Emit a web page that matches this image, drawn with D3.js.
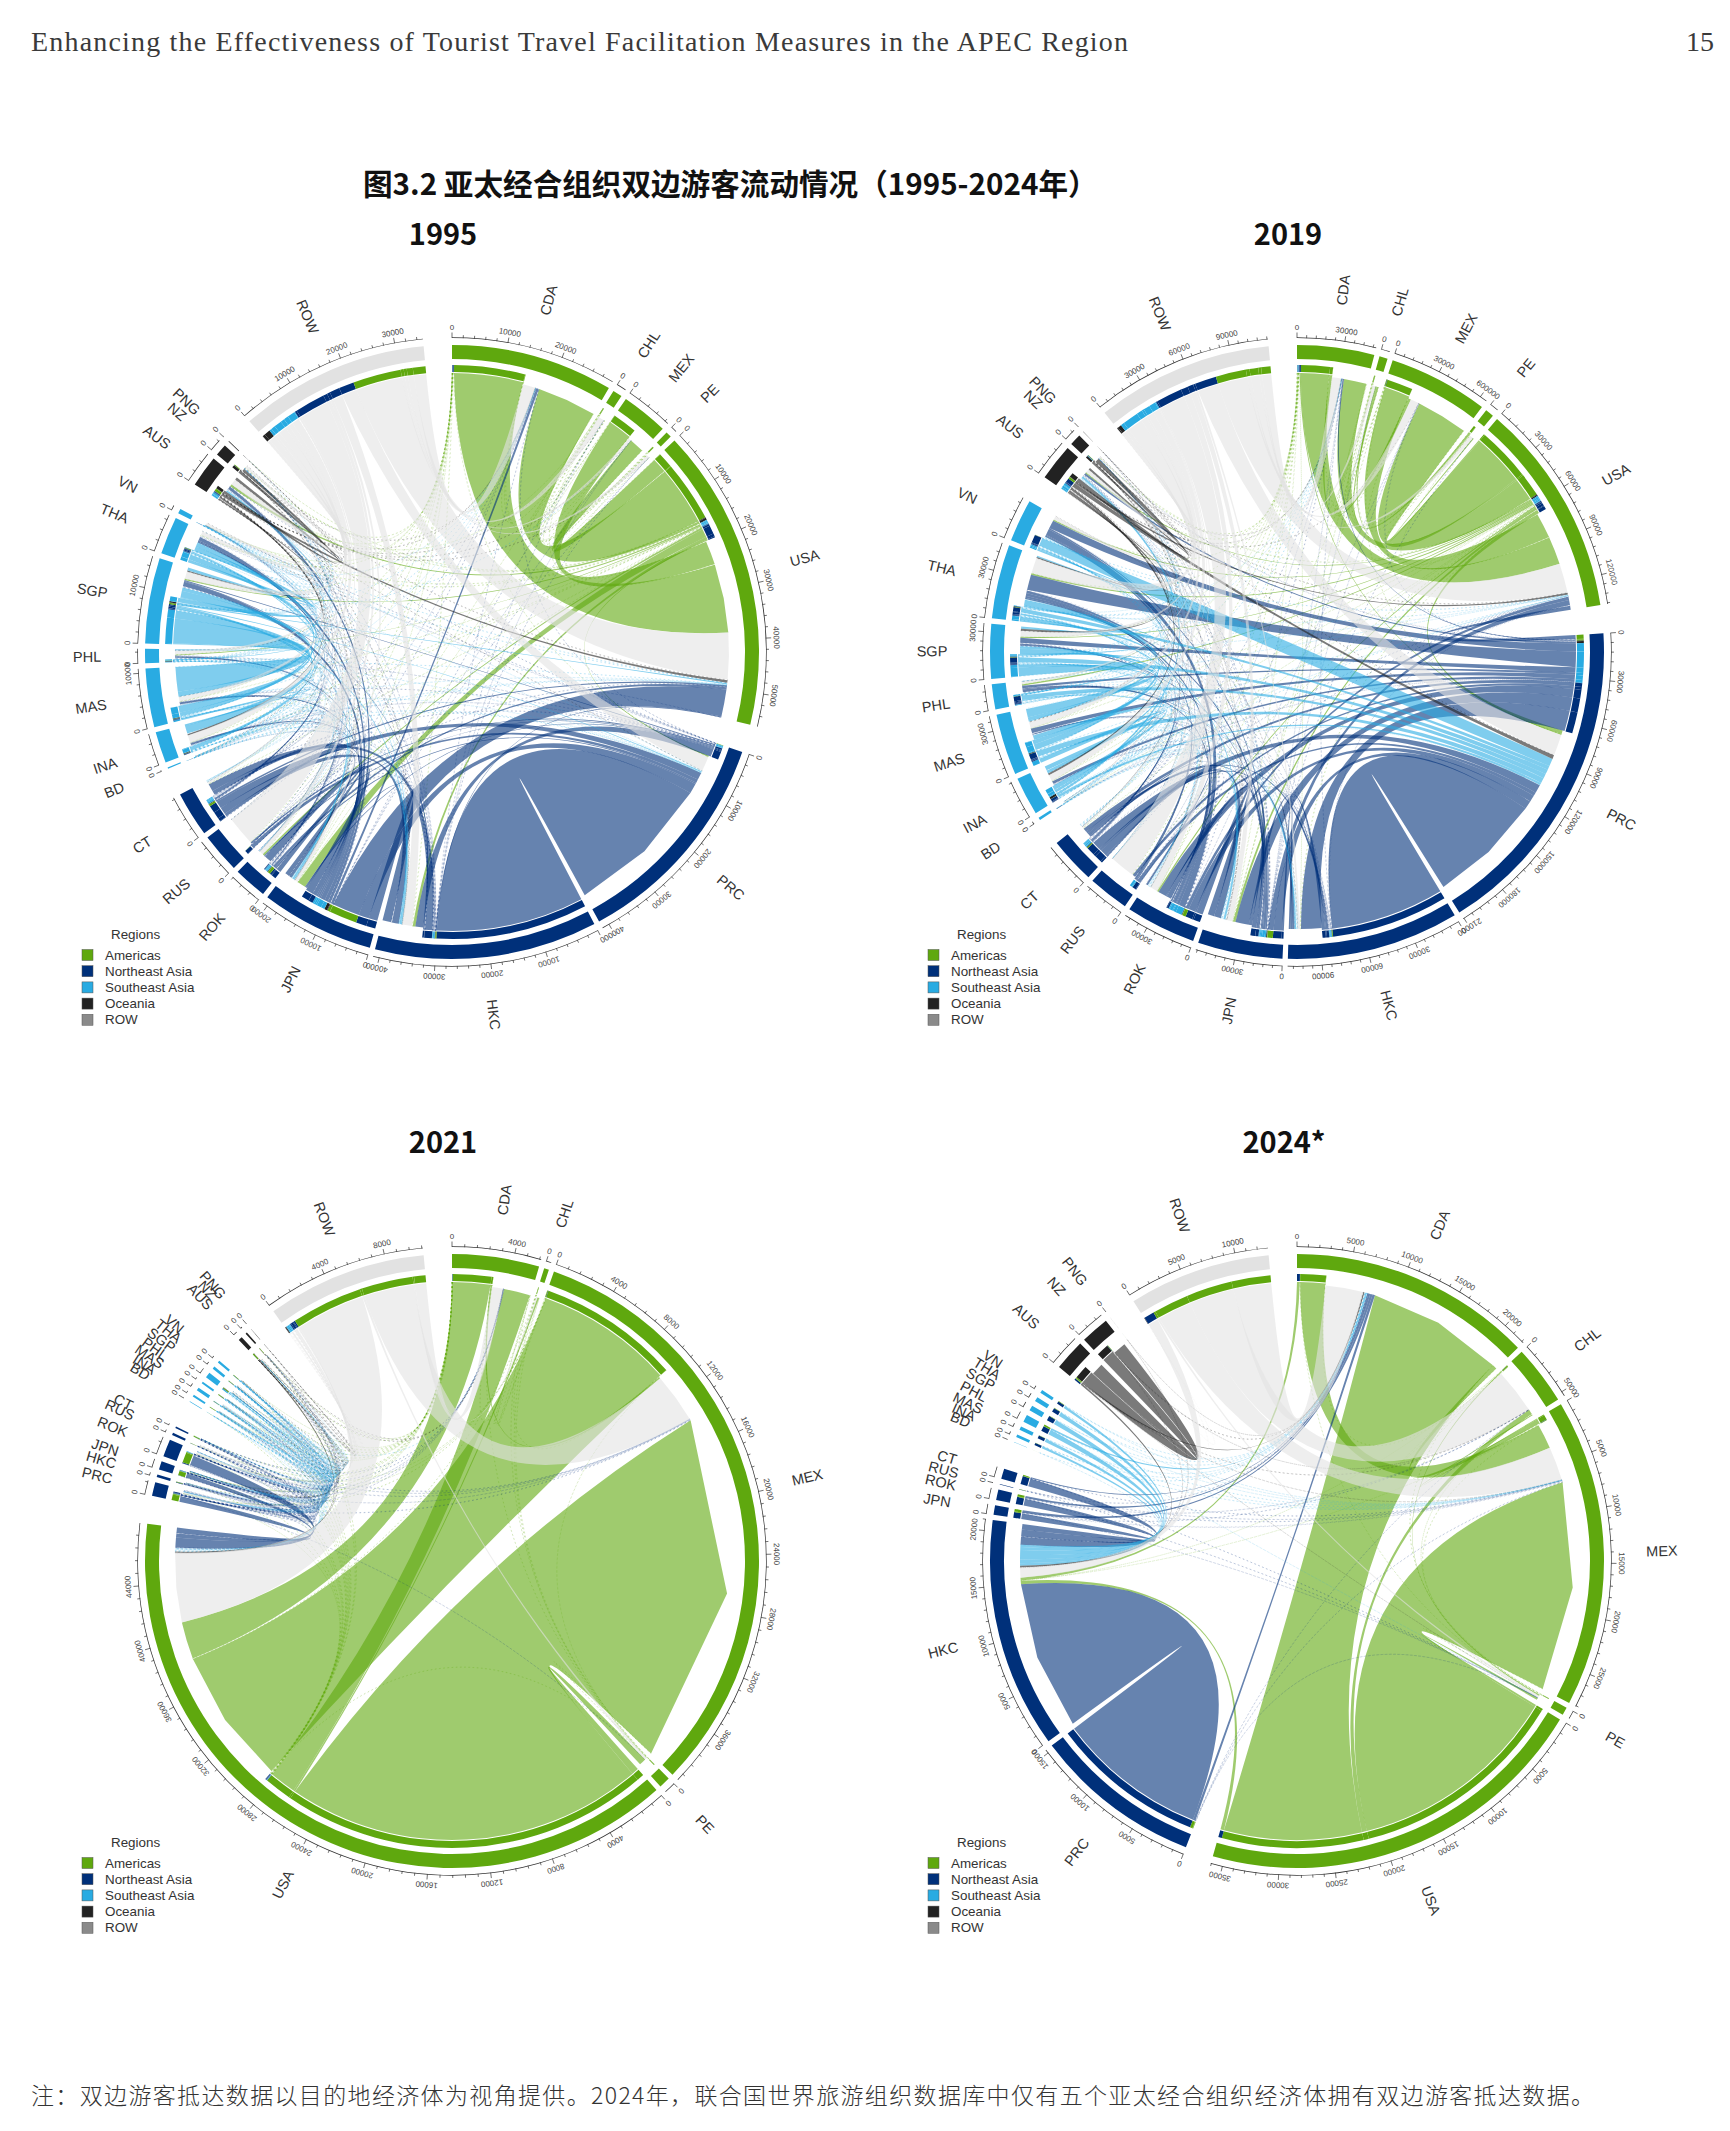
<!DOCTYPE html>
<html lang="zh">
<head>
<meta charset="utf-8">
<title>图3.2 亚太经合组织双边游客流动情况</title>
<script src="https://cdn.jsdelivr.net/npm/d3@7"></script>
<style>
  html, body { margin: 0; background: #fff; }
  svg { display: block; }
  text { font-family: "Liberation Sans", Arial, sans-serif; }
</style>
</head>
<body>
<script>
// Economies in clockwise order, starting at twelve o'clock
const sectors = ["CDA","CHL","MEX","PE","USA","PRC","HKC","JPN","ROK","RUS","CT","BD","INA","MAS","PHL","SGP","THA","VN","AUS","NZ","PNG","ROW"];
const sectorRegions = ["Americas","Americas","Americas","Americas","Americas","Northeast Asia","Northeast Asia","Northeast Asia","Northeast Asia","Northeast Asia","Northeast Asia","Southeast Asia","Southeast Asia","Southeast Asia","Southeast Asia","Southeast Asia","Southeast Asia","Southeast Asia","Oceania","Oceania","Oceania","ROW"];
const regionNames = ["Americas","Northeast Asia","Southeast Asia","Oceania","ROW"];
const regionColors = ["#5fa80e","#00307a","#29abe2","#222222","#e2e2e2"];
const legendColors = ["#5fa80e","#00307a","#29abe2","#222222","#8a8a8a"];

// Arrivals in thousands. Each row: origin, then destination / value pairs.
const flows1995 = [
  ["CDA","USA",14000,"MEX",90,"PE",10,"CHL",10,"AUS",30,"NZ",10,"VN",5,"THA",15,"SGP",10,"PHL",10,"MAS",5,"INA",5,"CT",25,"RUS",10,"ROK",20,"JPN",90,"HKC",110,"PRC",60],
  ["CHL","CDA",10,"MEX",15,"PE",90,"USA",130,"AUS",2,"JPN",2],
  ["MEX","CDA",60,"CHL",5,"PE",3,"USA",4800,"JPN",5],
  ["PE","USA",150,"CHL",130,"MEX",5,"CDA",15],
  ["USA","PE",60,"MEX",3000,"CHL",120,"CDA",12000,"AUS",420,"NZ",120,"PNG",3,"VN",40,"THA",150,"SGP",250,"PHL",180,"MAS",100,"INA",80,"BD",5,"CT",90,"RUS",40,"ROK",350,"JPN",1700,"HKC",550,"PRC",220],
  ["PRC","USA",60,"CDA",30,"AUS",30,"VN",10,"THA",150,"SGP",200,"PHL",50,"MAS",50,"INA",30,"CT",20,"RUS",300,"ROK",200,"JPN",200,"HKC",1600],
  ["HKC","PRC",30000,"USA",200,"PE",1,"MEX",3,"CHL",1,"CDA",50,"AUS",70,"NZ",15,"VN",3,"THA",150,"SGP",180,"PHL",90,"MAS",60,"INA",40,"BD",2,"CT",1500,"RUS",30,"ROK",60,"JPN",300],
  ["JPN","HKC",1800,"PRC",2100,"USA",5500,"PE",5,"MEX",30,"CHL",5,"CDA",500,"AUS",550,"NZ",120,"VN",30,"THA",700,"SGP",900,"PHL",300,"MAS",350,"INA",350,"CT",830,"RUS",40,"ROK",1500],
  ["ROK","JPN",900,"HKC",150,"PRC",300,"USA",500,"CDA",80,"AUS",100,"NZ",40,"THA",200,"SGP",120,"PHL",150,"MAS",50,"INA",60,"VN",20,"CT",100,"RUS",80],
  ["RUS","PRC",700,"JPN",50,"ROK",30,"USA",30,"CT",5,"THA",10,"CDA",10],
  ["CT","RUS",5,"ROK",100,"JPN",600,"HKC",1400,"PRC",1500,"USA",350,"CDA",50,"AUS",80,"NZ",5,"VN",40,"THA",300,"SGP",150,"PHL",100,"MAS",150,"INA",130,"BD",2],
  ["BD","THA",20,"SGP",5,"MAS",3,"INA",1,"HKC",2,"JPN",5,"USA",5,"PRC",5],
  ["INA","BD",2,"CT",50,"ROK",20,"JPN",100,"HKC",30,"PRC",40,"USA",40,"CDA",5,"AUS",110,"NZ",5,"VN",5,"THA",30,"SGP",700,"PHL",20,"MAS",100],
  ["MAS","INA",300,"BD",3,"CT",30,"ROK",10,"JPN",50,"HKC",80,"PRC",100,"USA",50,"CDA",10,"AUS",100,"NZ",10,"VN",20,"THA",800,"SGP",1300,"PHL",30],
  ["PHL","MAS",40,"INA",20,"BD",1,"CT",30,"ROK",30,"JPN",70,"HKC",50,"PRC",10,"USA",60,"CDA",10,"AUS",20,"NZ",3,"VN",5,"THA",20,"SGP",200],
  ["SGP","PHL",200,"MAS",5000,"INA",1600,"BD",5,"CT",150,"RUS",5,"ROK",80,"JPN",300,"HKC",300,"PRC",200,"USA",250,"CDA",30,"MEX",2,"PNG",3,"NZ",60,"AUS",250,"VN",60,"THA",900],
  ["THA","SGP",600,"PHL",50,"MAS",1000,"INA",120,"BD",10,"CT",100,"ROK",60,"JPN",200,"HKC",200,"PRC",100,"USA",100,"CDA",10,"AUS",40,"NZ",5,"VN",30],
  ["VN","THA",30,"SGP",10,"MAS",10,"PHL",1,"CT",2,"JPN",5,"HKC",5,"PRC",10,"USA",3,"AUS",3],
  ["AUS","VN",30,"THA",40,"SGP",250,"PHL",50,"MAS",100,"INA",300,"BD",1,"CT",40,"RUS",5,"ROK",20,"JPN",130,"HKC",70,"PRC",30,"USA",500,"PE",1,"MEX",5,"CHL",5,"CDA",80,"PNG",30,"NZ",550],
  ["NZ","AUS",550,"USA",150,"JPN",5,"ROK",5,"HKC",5,"SGP",5,"CDA",5],
  ["PNG","AUS",30,"JPN",5,"NZ",5],
  ["ROW","PNG",50,"NZ",500,"AUS",1200,"VN",500,"THA",800,"SGP",1500,"PHL",800,"MAS",900,"INA",1500,"BD",150,"CT",400,"RUS",6000,"ROK",800,"JPN",600,"HKC",2000,"PRC",3000,"USA",9500,"PE",600,"MEX",600,"CHL",1200,"CDA",2500]
];

const flows2019 = [
  ["CDA","USA",20000,"MEX",2000,"CHL",100,"PE",80,"PRC",800,"HKC",100,"JPN",370,"ROK",200,"CT",120,"RUS",30,"AUS",200,"NZ",50,"VN",100,"THA",250,"SGP",100,"PHL",250,"MAS",50,"INA",50],
  ["CHL","USA",300,"CDA",50,"MEX",100,"PE",400,"JPN",5],
  ["MEX","CHL",100,"CDA",450,"USA",18000,"PE",40,"JPN",90,"ROK",60,"PRC",100],
  ["PE","USA",300,"CHL",1300,"MEX",50,"CDA",20],
  ["USA","PE",800,"MEX",37000,"CHL",1000,"CDA",16000,"AUS",800,"NZ",350,"VN",750,"THA",1100,"SGP",700,"PHL",1000,"MAS",250,"INA",300,"BD",5,"CT",600,"RUS",300,"ROK",1000,"JPN",1700,"HKC",500,"PRC",2500],
  ["PRC","USA",2800,"MEX",400,"CDA",800,"AUS",1400,"NZ",450,"VN",5800,"THA",11000,"SGP",3600,"PHL",1700,"MAS",3100,"INA",2000,"BD",200,"CT",2700,"RUS",2000,"ROK",6000,"JPN",9600,"HKC",14700],
  ["HKC","PRC",81000,"USA",500,"CDA",100,"AUS",200,"VN",100,"THA",600,"SGP",450,"PHL",250,"MAS",250,"INA",100,"CT",1700,"ROK",700,"JPN",2300],
  ["JPN","HKC",1300,"PRC",6000,"USA",3700,"PE",20,"MEX",130,"CHL",5,"CDA",250,"PNG",5,"NZ",100,"AUS",500,"VN",950,"THA",1800,"SGP",880,"PHL",680,"MAS",420,"INA",520,"BD",10,"CT",2100,"RUS",100,"ROK",3300],
  ["ROK","JPN",4600,"HKC",1100,"PRC",4800,"USA",2300,"MEX",60,"CDA",280,"AUS",280,"NZ",100,"VN",4300,"THA",1900,"SGP",640,"PHL",2000,"MAS",680,"INA",350,"CT",1100,"RUS",500],
  ["RUS","ROK",350,"JPN",120,"PRC",2500,"USA",50,"THA",1500,"VN",640,"SGP",40,"CDA",20],
  ["CT","RUS",5,"ROK",1300,"JPN",4900,"HKC",1700,"PRC",6000,"USA",600,"CDA",100,"AUS",300,"NZ",40,"VN",900,"THA",800,"SGP",400,"PHL",500,"MAS",500,"INA",200],
  ["BD","INA",5,"MAS",100,"SGP",100,"THA",100,"PRC",200,"JPN",10,"USA",50,"HKC",10],
  ["INA","BD",20,"CT",200,"RUS",20,"ROK",250,"JPN",400,"HKC",100,"PRC",1700,"USA",100,"CDA",30,"AUS",1400,"NZ",40,"VN",80,"THA",600,"SGP",1800,"PHL",200,"MAS",3000],
  ["MAS","INA",3000,"BD",20,"CT",500,"RUS",30,"ROK",400,"JPN",500,"HKC",300,"PRC",3800,"USA",100,"CDA",50,"AUS",400,"NZ",30,"VN",600,"THA",4000,"SGP",3000,"PHL",200],
  ["PHL","MAS",400,"INA",300,"BD",5,"CT",500,"ROK",500,"JPN",600,"HKC",700,"PRC",3200,"USA",100,"CDA",40,"AUS",100,"VN",50,"THA",100,"SGP",800],
  ["SGP","PHL",200,"MAS",6000,"INA",2000,"BD",20,"CT",430,"RUS",5,"ROK",210,"JPN",500,"HKC",450,"PRC",3500,"USA",200,"CDA",50,"AUS",500,"NZ",60,"VN",500,"THA",1000],
  ["THA","SGP",1000,"PHL",60,"MAS",2200,"INA",150,"BD",50,"CT",400,"RUS",100,"ROK",570,"JPN",1300,"HKC",600,"PRC",2800,"USA",300,"CDA",80,"AUS",400,"NZ",40,"VN",400],
  ["VN","THA",900,"SGP",700,"PHL",50,"MAS",900,"INA",70,"CT",100,"ROK",550,"JPN",500,"HKC",100,"PRC",5500,"USA",100,"AUS",100],
  ["AUS","VN",380,"THA",800,"SGP",1400,"PHL",300,"MAS",400,"INA",1400,"BD",5,"CT",100,"RUS",50,"ROK",150,"JPN",600,"HKC",200,"PRC",2800,"USA",1300,"CDA",200,"MEX",20,"NZ",3000,"PNG",50],
  ["NZ","AUS",1500,"USA",300,"PRC",150,"JPN",100,"ROK",30,"CT",40,"SGP",100,"THA",80,"MAS",50,"CDA",50],
  ["PNG","AUS",50,"JPN",5,"NZ",5],
  ["ROW","PNG",50,"NZ",800,"AUS",2500,"VN",2500,"THA",11000,"SGP",4000,"PHL",1500,"MAS",4500,"INA",4500,"BD",800,"CT",1000,"RUS",18000,"ROK",5000,"JPN",4000,"HKC",1500,"PRC",15000,"USA",21000,"PE",2500,"MEX",6000,"CHL",2000,"CDA",6500]
];

const flows2021 = [
  ["CDA","USA",2700,"MEX",120,"CHL",10,"PE",3,"PRC",8,"HKC",2,"JPN",4,"ROK",10,"RUS",1,"CT",1,"AUS",6,"NZ",1,"VN",1,"THA",2,"SGP",2,"PHL",4,"MAS",1,"INA",1],
  ["CHL","CDA",2,"MEX",20,"PE",10,"USA",30],
  ["MEX","CHL",20,"CDA",50,"USA",9900,"PE",15,"ROK",15,"JPN",5,"PRC",3],
  ["PE","USA",40,"MEX",15,"CHL",5,"CDA",1],
  ["USA","PE",500,"MEX",25800,"CHL",120,"CDA",1900,"AUS",10,"NZ",3,"VN",5,"THA",8,"SGP",10,"PHL",20,"MAS",3,"INA",8,"BD",1,"CT",3,"RUS",8,"ROK",30,"JPN",30,"HKC",2,"PRC",20],
  ["PRC","USA",400,"MEX",40,"PE",1,"CDA",30,"AUS",6,"NZ",1,"VN",10,"THA",5,"SGP",5,"PHL",5,"MAS",3,"INA",5,"CT",1,"RUS",30,"ROK",5,"JPN",10,"HKC",60],
  ["HKC","PRC",40,"USA",30,"CDA",3,"JPN",3,"THA",1,"SGP",2,"PHL",2,"MAS",1,"CT",2],
  ["JPN","HKC",4,"PRC",15,"USA",300,"MEX",15,"CDA",6,"AUS",4,"NZ",1,"VN",15,"THA",10,"SGP",6,"PHL",6,"MAS",4,"INA",4,"CT",2,"ROK",10],
  ["ROK","JPN",10,"HKC",2,"PRC",60,"USA",700,"MEX",50,"CDA",20,"AUS",5,"NZ",1,"VN",20,"THA",5,"SGP",15,"PHL",5,"MAS",3,"INA",2,"RUS",4],
  ["RUS","PRC",5,"ROK",3,"JPN",1,"USA",10,"MEX",5,"THA",2,"VN",1],
  ["CT","RUS",1,"ROK",1,"JPN",2,"HKC",2,"PRC",5,"USA",60,"MEX",3,"CDA",2,"VN",3,"THA",1,"SGP",1,"PHL",1],
  ["BD","INA",1,"MAS",3,"SGP",5,"THA",1,"USA",2,"PRC",1],
  ["INA","MAS",2,"SGP",3,"THA",1,"PHL",1,"VN",1,"AUS",5,"USA",30,"JPN",2,"PRC",5,"ROK",1],
  ["MAS","INA",4,"SGP",20,"THA",5,"VN",1,"AUS",5,"USA",20,"JPN",1,"PRC",5,"HKC",1],
  ["PHL","MAS",1,"INA",1,"SGP",3,"THA",1,"USA",50,"CDA",3,"JPN",2,"ROK",3,"AUS",2,"PRC",2],
  ["SGP","PHL",2,"MAS",60,"INA",15,"BD",2,"THA",8,"VN",3,"AUS",10,"NZ",1,"USA",60,"JPN",3,"ROK",4,"PRC",10,"HKC",2,"CT",1],
  ["THA","SGP",6,"PHL",1,"MAS",6,"INA",1,"VN",2,"AUS",3,"USA",30,"JPN",3,"ROK",3,"PRC",3,"CT",1],
  ["VN","THA",2,"SGP",2,"MAS",1,"PHL",1,"AUS",2,"USA",30,"JPN",5,"ROK",8,"PRC",3,"CT",1],
  ["AUS","VN",1,"THA",1,"SGP",3,"PHL",1,"MAS",1,"INA",2,"USA",80,"CDA",5,"NZ",20,"JPN",1,"PNG",1],
  ["NZ","AUS",15,"USA",30,"CDA",2,"JPN",1],
  ["PNG","AUS",8,"NZ",1,"USA",1],
  ["ROW","PNG",5,"NZ",30,"AUS",60,"VN",30,"THA",60,"SGP",100,"PHL",10,"MAS",60,"INA",40,"BD",20,"CT",5,"RUS",80,"ROK",150,"JPN",60,"HKC",15,"PRC",100,"USA",5000,"PE",150,"MEX",3600,"CHL",100,"CDA",800]
];

const flows2024 = [
  ["CDA","MEX",2500,"PE",30,"CHL",30,"HKC",280],
  ["CHL","CDA",30,"MEX",40,"PE",100,"HKC",2],
  ["MEX","CDA",450,"CHL",100,"PE",60,"HKC",15],
  ["PE","CDA",10,"CHL",50,"MEX",30],
  ["USA","PE",200,"MEX",21200,"CHL",500,"CDA",13800,"HKC",350],
  ["PRC","MEX",40,"CDA",250,"PE",20,"CHL",20,"HKC",15000],
  ["JPN","HKC",550,"CDA",230,"MEX",70,"PE",5,"CHL",5],
  ["ROK","HKC",700,"CDA",200,"MEX",50,"CHL",3,"PE",5],
  ["RUS","HKC",20,"MEX",20,"CDA",5],
  ["CT","HKC",800,"CDA",100,"MEX",30,"PE",3],
  ["BD","HKC",5,"CDA",15],
  ["INA","HKC",220,"CDA",20,"MEX",5],
  ["MAS","HKC",300,"CDA",15,"MEX",3],
  ["PHL","HKC",500,"CDA",150,"MEX",20,"PE",2],
  ["SGP","HKC",450,"CDA",30,"MEX",5],
  ["THA","HKC",380,"CDA",30,"MEX",5],
  ["VN","HKC",250,"CDA",40,"MEX",8],
  ["AUS","NZ",1300,"HKC",150,"CDA",110,"MEX",20,"PE",5,"CHL",30],
  ["NZ","AUS",1200,"HKC",40,"CDA",40,"CHL",10],
  ["PNG","CDA",3,"HKC",2],
  ["ROW","NZ",20,"AUS",30,"HKC",1000,"CDA",3800,"CHL",4500,"MEX",3400,"PE",200]
];

const panelTitles = ["1995","2019","2021","2024*"];
const panelFlows = [flows1995, flows2019, flows2021, flows2024];
const panelTickSteps = [10000, 30000, 4000, 5000];
const panelCenters = [[452,652],[1297,652],[452,1561],[1297,1561]];
const panelTitleAnchors = [[443,235],[1288,235],[443,1143],[1284,1143]];
const panelLegends = [[82,934],[928,934],[82,1842],[928,1842]];

const headerTitle = "Enhancing the Effectiveness of Tourist Travel Facilitation Measures in the APEC Region";
const pageNumber = "15";
const chartTitle = "图3.2 亚太经合组织双边游客流动情况（1995-2024年）";
const footnote = "注：双边游客抵达数据以目的地经济体为视角提供。2024年，联合国世界旅游组织数据库中仅有五个亚太经合组织经济体拥有双边游客抵达数据。";

const WIDTH = 1730, HEIGHT = 2131;
const R = 307, BAND = 14, BAR_OUT = R - 20, BAR_IN = R - 27;
const GAP_SMALL = 1, GAP_REGION = 5.3;
const RAD = Math.PI / 180;
const THIN_PX = 0.9;

const regionColor = d3.scaleOrdinal(regionNames, regionColors);
const polar = (deg, r) => [r * Math.sin(deg * RAD), -r * Math.cos(deg * RAD)];

// Expand "origin, dest, value, dest, value..." rows to a flat list of links
function expand(rows) {
  return rows.flatMap(row => {
    const links = [];
    for (let i = 1; i < row.length; i += 2) links.push({ origin: row[0], dest: row[i], value: row[i + 1] });
    return links;
  });
}

// Slots: outbound links first, then inbound; inside each group the partner
// nearest counter-clockwise takes the first slot so that ribbons cross little.
function layout(rows) {
  const links = expand(rows);
  const n = sectors.length;
  const at = new Map(sectors.map((s, i) => [s, i]));
  const ccw = (a, b) => (at.get(a) - at.get(b) + n) % n;
  const info = sectors.map((name, i) => ({ name, i, region: sectorRegions[i], out: [], inb: [] }));
  links.forEach(l => { info[at.get(l.origin)].out.push(l); info[at.get(l.dest)].inb.push(l); });
  info.forEach(s => {
    s.out.sort((a, b) => ccw(s.name, a.dest) - ccw(s.name, b.dest));
    s.inb.sort((a, b) => ccw(s.name, a.origin) - ccw(s.name, b.origin));
    let v = 0;
    s.out.forEach(l => { l.o0 = v; v += l.value; l.o1 = v; });
    s.outTotal = v;
    s.inb.forEach(l => { l.d0 = v; v += l.value; l.d1 = v; });
    s.total = v;
  });
  const gapSum = d3.sum(info, (s, i) =>
    sectorRegions[(i + 1) % n] === s.region ? GAP_SMALL : GAP_REGION);
  const perValue = (360 - gapSum) / d3.sum(info, s => s.total);
  let cursor = 0;
  info.forEach((s, i) => {
    s.a0 = cursor;
    s.a1 = cursor + s.total * perValue;
    s.angle = d3.scaleLinear().domain([0, s.total]).range([s.a0, s.a1]);
    cursor = s.a1 + (sectorRegions[(i + 1) % n] === s.region ? GAP_SMALL : GAP_REGION);
  });
  links.forEach(l => {
    l.A = info[at.get(l.origin)];
    l.B = info[at.get(l.dest)];
    l.thin = l.value * perValue * RAD * BAR_IN < THIN_PX;
  });
  return { info, links };
}

// Control point along the bisector of two angles, close to the centre
function control(a, b, r) {
  let d = ((b - a) % 360 + 360) % 360;
  if (d > 180) d -= 360;
  return polar(a + d / 2, r * 0.03);
}

// Ribbon: a true arc at the origin, a two-segment end at the destination
function ribbonPath(l) {
  const r1 = BAR_IN - 1, r2 = BAR_IN - 3;
  const a0 = l.A.angle(l.o0), a1 = l.A.angle(l.o1);
  const b0 = l.B.angle(l.d0), b1 = l.B.angle(l.d1);
  const p = d3.path();
  const s = polar(a0, r1);
  p.moveTo(s[0], s[1]);
  p.arc(0, 0, r1, (a0 - 90) * RAD, (a1 - 90) * RAD);
  let c = control(a1, b0, r1), e = polar(b0, r2);
  p.quadraticCurveTo(c[0], c[1], e[0], e[1]);
  const mid = polar((b0 + b1) / 2, r2), end = polar(b1, r2);
  p.lineTo(mid[0], mid[1]);
  p.lineTo(end[0], end[1]);
  c = control(b1, a0, r1);
  p.quadraticCurveTo(c[0], c[1], s[0], s[1]);
  p.closePath();
  return p.toString();
}

const arcGen = d3.arc();
const ring = (a0, a1, rIn, rOut) => arcGen({ startAngle: a0 * RAD, endAngle: a1 * RAD, innerRadius: rIn, outerRadius: rOut });

const svg = d3.select("body").append("svg").attr("width", WIDTH).attr("height", HEIGHT).attr("viewBox", `0 0 ${WIDTH} ${HEIGHT}`);
svg.append("rect").attr("width", WIDTH).attr("height", HEIGHT).attr("fill", "#fff");

function drawChord(panelIndex) {
  const { info, links } = layout(panelFlows[panelIndex]);
  const step = panelTickSteps[panelIndex];
  const [cx, cy] = panelCenters[panelIndex];
  const g = svg.append("g").attr("transform", `translate(${cx},${cy})`);

  // Ribbons take the colour of the origin's region; very narrow ones break up into dots
  g.append("g").selectAll("path").data(links).join("path")
    .attr("d", ribbonPath)
    .attr("fill", l => l.thin ? "none" : regionColor(l.A.region))
    .attr("fill-opacity", 0.6)
    .attr("stroke", l => l.thin ? regionColor(l.A.region) : "none")
    .attr("stroke-opacity", 0.4)
    .attr("stroke-width", 0.45)
    .attr("stroke-dasharray", l => l.thin ? "1.6 2.6" : null);

  // Outer band per economy
  g.append("g").selectAll("path").data(info).join("path")
    .attr("d", s => ring(s.a0, s.a1, R - BAND, R))
    .attr("fill", s => regionColor(s.region));

  // Inner bar: outbound split by destination region
  g.append("g").selectAll("path").data(links).join("path")
    .attr("d", l => ring(l.A.angle(l.o0), l.A.angle(l.o1), BAR_IN, BAR_OUT))
    .attr("fill", l => regionColor(l.B.region));

  // Axis on top of each band
  const axisR = R + 7;
  info.forEach(s => {
    const ax = g.append("g");
    ax.append("path").attr("d", ring(s.a0, s.a1, axisR, axisR + 0.7)).attr("fill", "#333");
    const minorStep = step / 5;
    d3.range(0, s.total + 1, minorStep).forEach(v => {
      const major = v % step === 0;
      const a = s.angle(v);
      const p0 = polar(a, axisR), p1 = polar(a, axisR + (major ? 5.5 : 3));
      ax.append("line").attr("x1", p0[0]).attr("y1", p0[1]).attr("x2", p1[0]).attr("y2", p1[1])
        .attr("stroke", "#333").attr("stroke-width", 0.7);
      if (major) {
        ax.append("text").attr("transform", `rotate(${a}) translate(0,${-(axisR + 8)})`)
          .attr("text-anchor", "middle").attr("font-size", 8).attr("fill", "#444")
          .text(d3.format("d")(v));
      }
    });
    // Economy name, radial and flipped on the left half
    const mid = (s.a0 + s.a1) / 2;
    const t = mid < 180
      ? `rotate(${mid - 90}) translate(${R + 58},0)`
      : `rotate(${mid + 90}) translate(${-(R + 58)},0)`;
    g.append("text").attr("transform", t).attr("text-anchor", "middle").attr("dy", "0.35em")
      .attr("font-size", 14.5).attr("fill", "#333").text(s.name);
  });

  // Year heading
  const [tx, ty] = panelTitleAnchors[panelIndex];
  svg.append("text").attr("x", tx).attr("y", ty).attr("text-anchor", "middle").attr("dy", "0.36em")
    .style("font-family", '"Noto Sans CJK SC"').attr("font-weight", 700).attr("font-size", 29).attr("fill", "#111")
    .text(panelTitles[panelIndex]);

  // Legend
  const [lx, ly] = panelLegends[panelIndex];
  const leg = svg.append("g").attr("transform", `translate(${lx},${ly})`);
  leg.append("text").attr("x", 29).attr("y", 0).attr("dy", "0.35em").attr("font-size", 13.4).attr("fill", "#333").text("Regions");
  regionNames.forEach((name, i) => {
    const y = 21 + i * 16.2;
    leg.append("rect").attr("x", 0).attr("y", y - 5.5).attr("width", 11).attr("height", 11)
      .attr("fill", legendColors[i]).attr("stroke", "#555").attr("stroke-width", 0.5);
    leg.append("text").attr("x", 23).attr("y", y).attr("dy", "0.35em").attr("font-size", 13.4).attr("fill", "#333").text(name);
  });
}

panelTitles.forEach((_, i) => drawChord(i));

// Page furniture
svg.append("text").attr("x", 31).attr("y", 42).attr("dy", "0.32em").attr("textLength", 1097)
  .style("font-family", '"Liberation Serif", serif').attr("font-size", 28).attr("fill", "#3a3a3a").text(headerTitle);
svg.append("text").attr("x", 1714).attr("y", 42).attr("dy", "0.32em").attr("text-anchor", "end")
  .style("font-family", '"Liberation Serif", serif').attr("font-size", 28).attr("fill", "#3a3a3a").text(pageNumber);
svg.append("text").attr("x", 363).attr("y", 184).attr("dy", "0.36em")
  .style("font-family", '"Noto Sans CJK SC"').attr("font-weight", 700).attr("font-size", 29.6).attr("fill", "#111").text(chartTitle);
svg.append("text").attr("x", 31).attr("y", 2096).attr("dy", "0.36em").attr("textLength", 1563)
  .style("font-family", '"Noto Sans CJK SC"').attr("font-weight", 300).attr("font-size", 23).attr("fill", "#333").text(footnote);
</script>
</body>
</html>
